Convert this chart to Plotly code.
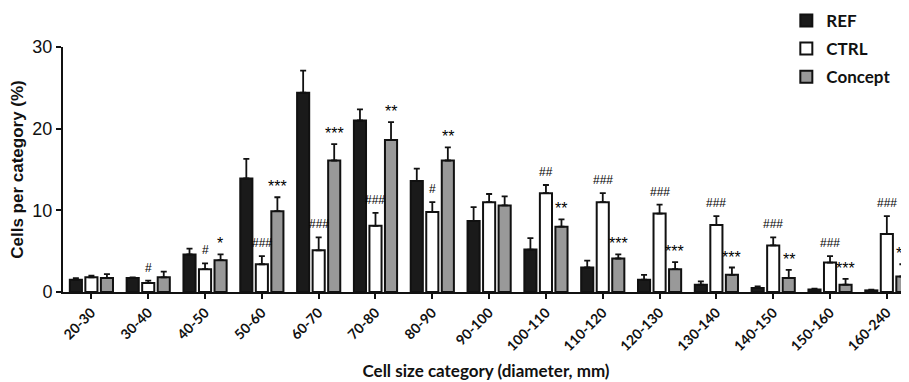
import plotly.graph_objects as go

categories = ["20-30", "30-40", "40-50", "50-60", "60-70", "70-80", "80-90", "90-100",
              "100-110", "110-120", "120-130", "130-140", "140-150", "150-160", "160-240"]

ref_vals = [1.5, 1.7, 4.6, 13.9, 24.4, 21.0, 13.6, 8.7, 5.2, 3.0, 1.5, 0.9, 0.5, 0.3, 0.2]
ref_err = [0.2, 0.1, 0.7, 2.4, 2.7, 1.35, 1.5, 1.7, 1.4, 0.85, 0.6, 0.4, 0.2, 0.1, 0.1]

ctrl_vals = [1.8, 1.1, 2.8, 3.4, 5.1, 8.1, 9.8, 11.0, 12.1, 11.0, 9.6, 8.2, 5.7, 3.6, 7.1]
ctrl_err = [0.2, 0.3, 0.7, 1.0, 1.6, 1.6, 1.2, 1.0, 1.0, 1.1, 1.1, 1.1, 1.0, 0.8, 2.2]
ctrl_marks = ["", "#", "#", "###", "###", "###", "#", "", "##", "###", "###", "###", "###", "###", "###"]

concept_vals = [1.7, 1.8, 3.9, 9.9, 16.1, 18.6, 16.1, 10.6, 8.0, 4.1, 2.8, 2.1, 1.7, 0.9, 1.9]
concept_err = [0.5, 0.7, 0.7, 1.7, 2.0, 2.2, 1.6, 1.1, 0.9, 0.5, 0.85, 0.9, 1.0, 0.7, 1.5]
concept_marks = ["", "", "*", "***", "***", "**", "**", "", "**", "***", "***", "***", "**", "***", "**"]

series = [
    ("REF", ref_vals, ref_err, "#1a1a1a"),
    ("CTRL", ctrl_vals, ctrl_err, "#ffffff"),
    ("Concept", concept_vals, concept_err, "#999999"),
]

fig = go.Figure()
for i, (name, vals, err, color) in enumerate(series):
    fig.add_trace(go.Bar(
        x=categories, y=vals, name="<b>" + name + "</b>", legendgroup=name,
        marker=dict(color=color, line=dict(color="#111111", width=2)),
        error_y=dict(type="data", symmetric=False, array=err, arrayminus=[0] * len(err),
                     color="#111111", thickness=1.8, width=3),
    ))

offset = 0.27
annotations = []
for j, cat in enumerate(categories):
    for marks, vals, err, dx, size, ys in [(ctrl_marks, ctrl_vals, ctrl_err, 0.0, 12, 4),
                                           (concept_marks, concept_vals, concept_err, offset, 16, 0)]:
        if marks[j]:
            annotations.append(dict(
                x=j + dx, y=vals[j] + err[j], xref="x", yref="y",
                text=marks[j], showarrow=False, yanchor="bottom", yshift=ys,
                font=dict(family="Liberation Sans, Arial", size=size, color="#000000"),
            ))

# page body has an 8px default margin; figure sized so that it fits the 909x382 window
fig.update_layout(
    width=901, height=374,
    margin=dict(l=55, r=0, t=39, b=90, autoexpand=False),
    plot_bgcolor="white", paper_bgcolor="white",
    barmode="group", bargap=0.18, bargroupgap=0.22,
    showlegend=True,
    legend=dict(x=0.855, y=1.18, xanchor="left", yanchor="top",
                font=dict(family="Lato, Open Sans, sans-serif", size=17, color="#111111"),
                tracegroupgap=3, bgcolor="rgba(0,0,0,0)"),
    annotations=annotations,
    xaxis=dict(
        type="category", range=[-0.5, 14.39],
        showline=True, linecolor="#111111", linewidth=2,
        ticks="outside", ticklen=5, tickwidth=2, tickcolor="#111111",
        tickangle=-45, automargin=False,
        tickprefix="<b>", ticksuffix="</b>",
        tickfont=dict(family="Lato, Open Sans, sans-serif", size=14, color="#111111"),
        title=dict(text="<b>Cell size category (diameter, mm)</b>",
                   font=dict(family="Lato, Open Sans, sans-serif", size=17, color="#111111"),
                   standoff=12),
        showgrid=False, zeroline=False,
    ),
    yaxis=dict(
        range=[0, 30], tickvals=[0, 10, 20, 30], automargin=False,
        showline=True, linecolor="#111111", linewidth=2,
        ticks="outside", ticklen=5, tickwidth=2, tickcolor="#111111",
        tickprefix="<b>", ticksuffix="</b>",
        tickfont=dict(family="Liberation Sans, Arial", size=18, color="#111111"),
        title=dict(text="<b>Cells per category (%)</b>",
                   font=dict(family="Liberation Sans, Arial", size=17, color="#111111"),
                   standoff=6),
        showgrid=False, zeroline=False,
    ),
)

fig.write_html("out.html")
